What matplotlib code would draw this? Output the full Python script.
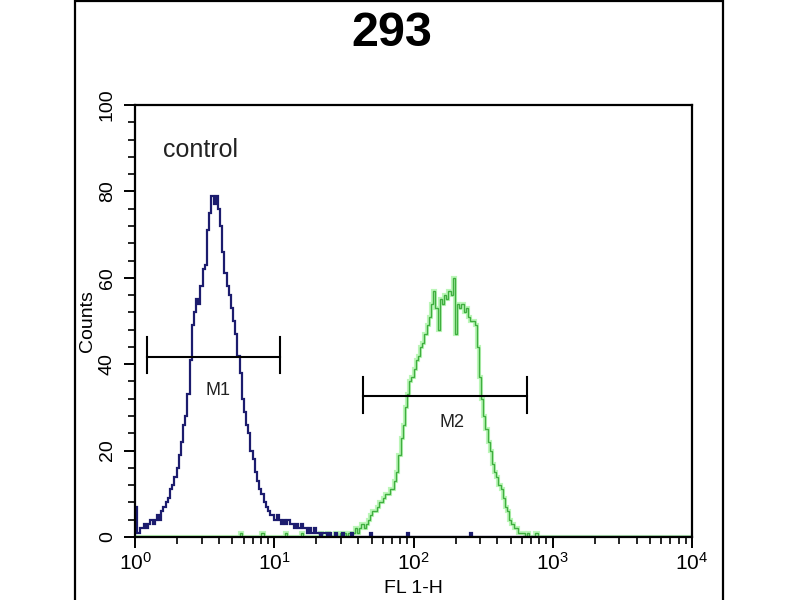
import matplotlib
matplotlib.use('Agg')

import matplotlib.pyplot as plt
import numpy as np
from matplotlib.patches import Rectangle

plt.rcParams['font.family'] = ['Liberation Sans', 'DejaVu Sans']

# 256 channels over 4 decades (10^0 .. 10^4)
n_channels = 256

# control (blue), channels 0-95 then the flat tail 96-255
blue_peak = [
    7, 1, 2, 2, 3, 2, 3, 4, 3, 4,
    5, 4, 6, 7, 8, 9, 11, 12, 14, 16,
    19, 22, 26, 28, 33, 41, 49, 52, 55, 54,
    58, 62, 63, 71, 75, 79, 77, 79, 76, 72,
    66, 61, 58, 56, 53, 50, 47, 42, 38, 32,
    29, 26, 24, 20, 18, 15, 13, 11, 10, 8,
    7, 6, 5, 5, 4, 5, 4, 3, 4, 3,
    4, 3, 3, 2, 3, 2, 3, 2, 2, 1,
    2, 1, 2, 1, 1, 0, 1, 1, 0, 1,
    0, 0, 1, 0, 0, 1,
]
blue_tail = [
    0, 0, 0, 1, 0, 0, 0, 0, 0, 0,
    0, 0, 1, 0, 0, 0, 0, 0, 0, 0,
    0, 0, 0, 0, 0, 0, 0, 0, 0, 1,
    0, 0, 0, 0, 0, 0, 0, 0, 0, 0,
    0, 0, 0, 0, 0, 0, 0, 0, 0, 0,
    0, 0, 0, 0, 0, 0, 0, 0, 1, 0,
    0, 0, 0, 0, 0, 0, 0, 0, 0, 0,
    0, 0, 0, 0, 0, 0, 0, 0, 0, 0,
    0, 0, 0, 0, 0, 0, 0, 0, 0, 0,
    0, 0, 0, 0, 0, 0, 0, 0, 0, 0,
    0, 0, 0, 0, 0, 0, 0, 0, 0, 0,
    0, 0, 0, 0, 0, 0, 0, 0, 0, 0,
    0, 0, 0, 0, 0, 0, 0, 0, 0, 0,
    0, 0, 0, 0, 0, 0, 0, 0, 0, 0,
    0, 0, 0, 0, 0, 0, 0, 0, 0, 0,
    0, 0, 0, 0, 0, 0, 0, 0, 0, 0,
]

# sample (green), channels 0-94, 95-180, 181-255
green_head = [
    0, 0, 0, 0, 0, 0, 0, 0, 0, 0,
    0, 0, 0, 0, 0, 0, 0, 0, 0, 0,
    0, 0, 0, 0, 0, 0, 0, 0, 0, 0,
    0, 0, 0, 0, 0, 0, 0, 0, 0, 0,
    0, 0, 0, 0, 0, 0, 0, 0, 1, 0,
    0, 0, 0, 0, 0, 0, 0, 0, 1, 0,
    0, 0, 0, 0, 0, 0, 0, 0, 0, 1,
    0, 0, 0, 0, 0, 0, 1, 0, 0, 0,
    0, 0, 0, 0, 0, 1, 0, 0, 1, 0,
    0, 0, 1, 0, 1,
]
green_peak = [
    0, 1, 0, 1, 1, 1, 2, 1, 2, 3,
    2, 3, 4, 5, 6, 6, 7, 8, 8, 9,
    10, 10, 11, 11, 13, 15, 19, 23, 26, 30,
    33, 36, 37, 39, 41, 42, 44, 45, 47, 49,
    51, 54, 57, 53, 48, 55, 54, 56, 55, 57,
    56, 60, 47, 54, 53, 54, 52, 53, 51, 50,
    50, 49, 44, 37, 32, 28, 25, 22, 20, 17,
    15, 14, 12, 11, 9, 7, 6, 4, 3, 2,
    2, 1, 1, 1, 0, 1,
]
green_tail = [
    0, 0, 0, 1, 0, 0, 0, 0, 0, 0,
    0, 0, 0, 0, 0, 0, 0, 0, 0, 0,
    0, 0, 0, 0, 0, 0, 0, 0, 0, 0,
    0, 0, 0, 0, 0, 0, 0, 0, 0, 0,
    0, 0, 0, 0, 0, 0, 0, 0, 0, 0,
    0, 0, 0, 0, 0, 0, 0, 0, 0, 0,
    0, 0, 0, 0, 0, 0, 0, 0, 0, 0,
    0, 0, 0, 0, 0,
]

blue = np.array(blue_peak + blue_tail)
green = np.array(green_head + green_peak + green_tail)

# marker gates: (left, right, level, cap low, cap high, label, label x, label y)
m1 = (1.22, 10.9, 41.7, 38.0, 46.3, "M1", 3.95, 34.0)
m2 = (43.0, 650.0, 32.6, 28.7, 37.0, "M2", 190.0, 26.4)

edges = np.logspace(0, 4, n_channels + 1)

fig = plt.figure(figsize=(8, 6), dpi=100)
ax = fig.add_axes([0.169, 0.105, 0.696, 0.72])

# outer panel frame
fig.patches.append(Rectangle((0.094, -0.01), 0.81, 1.008, transform=fig.transFigure,
                             fill=False, edgecolor='black', linewidth=1.6))

ax.stairs(green, edges, color='#8ff08a', linewidth=3.0, alpha=0.6, baseline=None)
ax.stairs(green, edges, color='#3fae3f', linewidth=1.0, baseline=None)
ax.stairs(blue, edges, color='#1c1c6e', linewidth=1.6, baseline=None)

for left, right, lvl, lo, hi, name, tx, ty in (m1, m2):
    ax.plot([left, right], [lvl, lvl], color='black', linewidth=1.5)
    ax.plot([left, left], [lo, hi], color='black', linewidth=1.5)
    ax.plot([right, right], [lo, hi], color='black', linewidth=1.5)
    ax.text(tx, ty, name, ha='center', va='center', fontsize=13, color='#222222')

ax.text(1.59, 89.6, "control", ha='left', va='center', fontsize=18, color='#222222')

ax.set_xscale('log')
ax.set_xlim(1, 1e4)
ax.set_ylim(0, 100)
ax.set_yticks(range(0, 101, 20))
ax.set_yticks(range(0, 101, 4), minor=True)

for s in ax.spines.values():
    s.set_linewidth(1.6)
ax.tick_params(which='major', length=8, width=1.4, color='black')
ax.tick_params(which='minor', length=5, width=1.2)
ax.tick_params(axis='y', labelsize=14, pad=6)
ax.tick_params(axis='x', labelsize=15, pad=3)
for lbl in ax.get_yticklabels():
    lbl.set_rotation(90)
    lbl.set_va('center')

ax.set_ylabel("Counts", fontsize=14, labelpad=2)
ax.set_xlabel("FL 1-H", fontsize=14, labelpad=4)

fig.text(0.49, 0.945, "293", ha='center', va='center', fontsize=35, fontweight='bold')

fig.savefig("out.png", dpi=100)
